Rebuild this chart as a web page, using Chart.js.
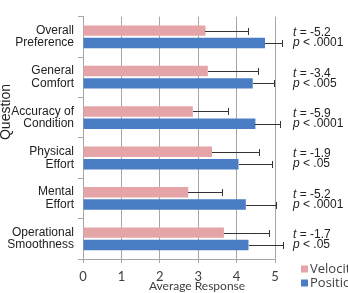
<!DOCTYPE html>
<html>
<head>
<meta charset="utf-8">
<script src="https://cdn.jsdelivr.net/npm/chart.js@4"></script>
<style>
  html, body { margin: 0; padding: 0; background: #fff; }
  #wrap { width: 348px; height: 293px; }
</style>
</head>
<body>
<div id="wrap"><canvas id="chart" width="348" height="293"></canvas></div>
<script>
"use strict";

const categories = [
    ["Overall", "Preference"],
    ["General", "Comfort"],
    ["Accuracy of", "Condition"],
    ["Physical", "Effort"],
    ["Mental", "Effort"],
    ["Operational", "Smoothness"]
];
const velocity = [3.19, 3.25, 2.86, 3.36, 2.74, 3.67];
const velocityErr = [1.11, 1.30, 0.92, 1.22, 0.87, 1.17];
const position = [4.74, 4.42, 4.49, 4.05, 4.24, 4.31];
const positionErr = [0.45, 0.56, 0.63, 0.87, 0.79, 0.90];
const tValues = ["-5.2", "-3.4", "-5.9", "-1.9", "-5.2", "-1.7"];
const pValues = [".0001", ".005", ".0001", ".05", ".0001", ".05"];
const xTicks = [0, 1, 2, 3, 4, 5];

const pink = "#e5a4a7";
const blue = "#4a7dc4";
const gridGrey = "#a6a6a6";

// one-sided error bars, t/p notes, axis titles and legend
const extras = {
    id: "extras",
    afterDatasetsDraw(chart) {
        const ctx = chart.ctx;
        const xs = chart.scales.x;
        const ys = chart.scales.y;
        const errs = [velocityErr, positionErr];

        ctx.save();
        ctx.strokeStyle = "#333";
        ctx.lineWidth = 1;
        chart.data.datasets.forEach((ds, di) => {
            chart.getDatasetMeta(di).data.forEach((bar, i) => {
                const x0 = Math.round(bar.x);
                const x1 = Math.round(xs.getPixelForValue(ds.data[i] + errs[di][i])) + 0.5;
                const y = Math.round(bar.y) + 0.5;
                ctx.beginPath();
                ctx.moveTo(x0, y);
                ctx.lineTo(x1, y);
                ctx.moveTo(x1, y - 3.5);
                ctx.lineTo(x1, y + 3.5);
                ctx.stroke();
            });
        });

        // t / p notes
        ctx.fillStyle = "#222";
        ctx.textBaseline = "middle";
        ctx.textAlign = "left";
        categories.forEach((c, i) => {
            const yc = ys.getPixelForValue(i);
            const x = 293;
            ctx.font = "italic 12px 'Liberation Sans'";
            ctx.fillText("t", x, yc - 4);
            let w = ctx.measureText("t").width;
            ctx.font = "12px 'Liberation Sans'";
            ctx.fillText(" = " + tValues[i], x + w, yc - 4);
            ctx.font = "italic 12px 'Liberation Sans'";
            ctx.fillText("p", x, yc + 6);
            w = ctx.measureText("p").width;
            ctx.font = "12px 'Liberation Sans'";
            ctx.fillText(" < " + pValues[i], x + w, yc + 6);
        });

        // axis titles
        ctx.fillStyle = "#404040";
        ctx.font = "12px Lato";
        ctx.textAlign = "center";
        ctx.fillText("Average Response", 197, 286);

        ctx.save();
        ctx.translate(6, 112);
        ctx.rotate(-Math.PI / 2);
        ctx.fillStyle = "#222";
        ctx.font = "14px 'Liberation Sans'";
        ctx.fillText("Question", 0, 0);
        ctx.restore();

        // legend
        ctx.textAlign = "left";
        ctx.font = "13px 'Open Sans'";
        chart.data.datasets.forEach((ds, di) => {
            const ly = 269 + di * 14;
            ctx.fillStyle = ds.backgroundColor;
            ctx.fillRect(301, ly - 3.5, 7, 7);
            ctx.fillStyle = "#404040";
            ctx.fillText(ds.label, 310, ly);
        });
        ctx.restore();
    }
};

new Chart(document.getElementById("chart"), {
    type: "bar",
    data: {
        labels: categories,
        datasets: [
            {
                label: "Velocity",
                data: velocity,
                backgroundColor: pink,
                categoryPercentage: 0.612,
                barPercentage: 0.846
            },
            {
                label: "Position",
                data: position,
                backgroundColor: blue,
                categoryPercentage: 0.612,
                barPercentage: 0.846
            }
        ]
    },
    options: {
        indexAxis: "y",
        responsive: false,
        animation: false,
        layout: { padding: { top: 4, right: 73, left: 0, bottom: 0 } },
        plugins: {
            legend: { display: false },
            tooltip: { enabled: false }
        },
        scales: {
            x: {
                min: 0,
                max: 5,
                afterBuildTicks: (scale) => {
                    scale.ticks = xTicks.map((v) => ({ value: v }));
                },
                afterFit: (scale) => { scale.height = 34; },
                grid: { color: gridGrey, tickLength: 4, tickColor: gridGrey },
                border: { color: gridGrey },
                ticks: {
                    color: "#404040",
                    padding: 6,
                    font: { family: "Lato", size: 13 }
                }
            },
            y: {
                afterFit: (scale) => { scale.width = 83; },
                grid: {
                    drawOnChartArea: false,
                    tickLength: 5,
                    tickColor: gridGrey,
                    offset: true
                },
                border: { color: gridGrey },
                ticks: {
                    color: "#222",
                    padding: 4,
                    font: { family: "Liberation Sans", size: 12, lineHeight: 1.05 }
                }
            }
        }
    },
    plugins: [extras]
});
</script>
</body>
</html>
